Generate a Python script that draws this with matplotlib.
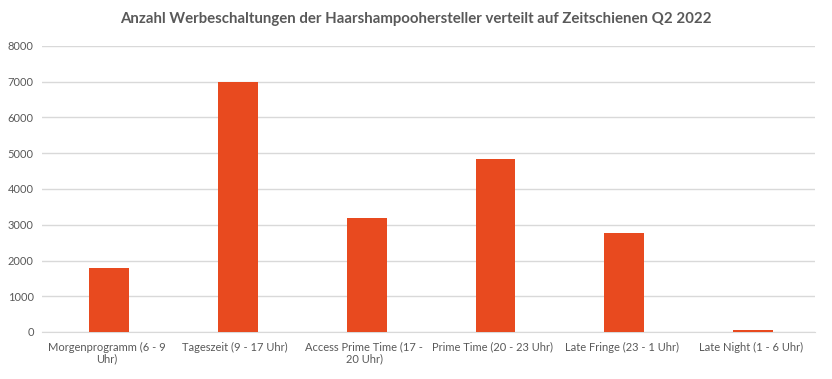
import matplotlib.pyplot as plt
import numpy as np

categories = ['Morgenprogramm (6 - 9\nUhr)', 'Tageszeit (9 - 17 Uhr)', 'Access Prime Time (17 -\n20 Uhr)',
              'Prime Time (20 - 23 Uhr)', 'Late Fringe (23 - 1 Uhr)', 'Late Night (1 - 6 Uhr)']
values = [1800, 6980, 3200, 4850, 2760, 50]
yticks = [0, 1000, 2000, 3000, 4000, 5000, 6000, 7000, 8000]

plt.rcParams['font.family'] = ['Lato', 'DejaVu Sans']
grey = '#595959'

fig = plt.figure(figsize=(8.32, 3.79), dpi=100)
ax = fig.add_axes([42 / 832, 1 - 332 / 379, (815 - 42) / 832, (332 - 46) / 379])

x = np.arange(len(categories))
ax.bar(x + 0.02, values, width=0.31, color='#E84A1F', zorder=3)

ax.set_xlim(-0.5, len(categories) - 0.5)
ax.set_ylim(0, 8000)
ax.set_yticks(yticks)
ax.set_yticklabels([str(t) for t in yticks])
ax.set_xticks(x)
ax.set_xticklabels(categories, linespacing=1.1)
ax.grid(axis='y', color='#d9d9d9', linewidth=1, zorder=0)
for s in ['top', 'right', 'left']:
    ax.spines[s].set_visible(False)
ax.spines['bottom'].set_color('#d9d9d9')
ax.tick_params(axis='both', length=0, colors=grey, labelsize=8)
ax.tick_params(axis='x', pad=7)
ax.tick_params(axis='y', pad=6)

fig.text(0.5, 1 - 19 / 379, 'Anzahl Werbeschaltungen der Haarshampoohersteller verteilt auf Zeitschienen Q2 2022',
         ha='center', va='center', fontsize=10.8, fontweight='bold', color=grey)

fig.savefig('out.png', dpi=100, facecolor='white')
